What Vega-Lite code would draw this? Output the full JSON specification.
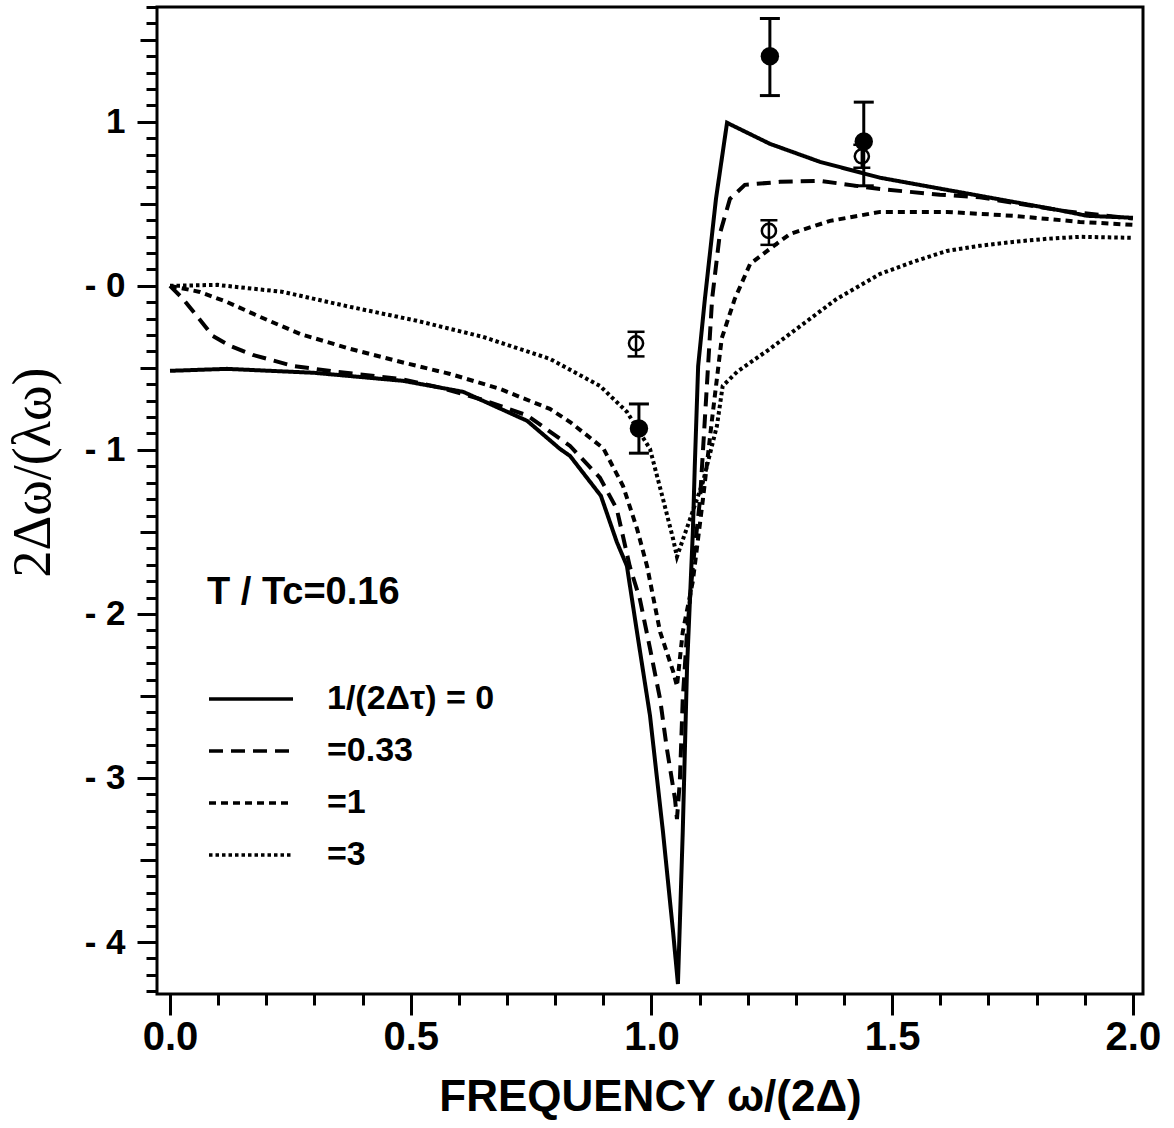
{
  "$schema": "https://vega.github.io/schema/vega-lite/v6.json",
  "width": 986,
  "height": 987,
  "autosize": {"type": "none"},
  "padding": {"left": 157, "top": 7, "right": 31, "bottom": 134},
  "background": "white",
  "config": {
    "font": "Liberation Sans",
    "view": {"stroke": "black", "strokeWidth": 3},
    "axis": {
      "grid": false,
      "domain": false,
      "tickColor": "black",
      "tickWidth": 3,
      "labelColor": "black",
      "labelFont": "Liberation Sans",
      "labelFontWeight": "bold",
      "titleColor": "black"
    }
  },
  "datasets": {
    "curves": [
      {"series": "1/(2Δτ) = 0", "x": 0, "y": -0.518},
      {"series": "1/(2Δτ) = 0", "x": 0.118, "y": -0.506},
      {"series": "1/(2Δτ) = 0", "x": 0.299, "y": -0.53},
      {"series": "1/(2Δτ) = 0", "x": 0.484, "y": -0.579},
      {"series": "1/(2Δτ) = 0", "x": 0.609, "y": -0.646},
      {"series": "1/(2Δτ) = 0", "x": 0.742, "y": -0.823},
      {"series": "1/(2Δτ) = 0", "x": 0.81, "y": -0.994},
      {"series": "1/(2Δτ) = 0", "x": 0.831, "y": -1.037},
      {"series": "1/(2Δτ) = 0", "x": 0.895, "y": -1.28},
      {"series": "1/(2Δτ) = 0", "x": 0.928, "y": -1.561},
      {"series": "1/(2Δτ) = 0", "x": 0.949, "y": -1.707},
      {"series": "1/(2Δτ) = 0", "x": 0.97, "y": -2.11},
      {"series": "1/(2Δτ) = 0", "x": 0.997, "y": -2.62},
      {"series": "1/(2Δτ) = 0", "x": 1.024, "y": -3.33},
      {"series": "1/(2Δτ) = 0", "x": 1.045, "y": -3.94},
      {"series": "1/(2Δτ) = 0", "x": 1.055, "y": -4.256},
      {"series": "1/(2Δτ) = 0", "x": 1.065, "y": -3.33},
      {"series": "1/(2Δτ) = 0", "x": 1.074, "y": -2.32},
      {"series": "1/(2Δτ) = 0", "x": 1.08, "y": -1.91},
      {"series": "1/(2Δτ) = 0", "x": 1.086, "y": -1.5},
      {"series": "1/(2Δτ) = 0", "x": 1.09, "y": -1.1},
      {"series": "1/(2Δτ) = 0", "x": 1.097, "y": -0.49},
      {"series": "1/(2Δτ) = 0", "x": 1.111, "y": -0.08},
      {"series": "1/(2Δτ) = 0", "x": 1.134, "y": 0.53},
      {"series": "1/(2Δτ) = 0", "x": 1.157, "y": 0.994},
      {"series": "1/(2Δτ) = 0", "x": 1.246, "y": 0.866},
      {"series": "1/(2Δτ) = 0", "x": 1.35, "y": 0.756},
      {"series": "1/(2Δτ) = 0", "x": 1.475, "y": 0.659},
      {"series": "1/(2Δτ) = 0", "x": 1.682, "y": 0.549},
      {"series": "1/(2Δτ) = 0", "x": 1.855, "y": 0.457},
      {"series": "1/(2Δτ) = 0", "x": 1.905, "y": 0.427},
      {"series": "1/(2Δτ) = 0", "x": 2.0, "y": 0.415},

      {"series": "=0.33", "x": 0, "y": 0},
      {"series": "=0.33", "x": 0.027, "y": -0.079},
      {"series": "=0.33", "x": 0.089, "y": -0.305},
      {"series": "=0.33", "x": 0.125, "y": -0.366},
      {"series": "=0.33", "x": 0.172, "y": -0.421},
      {"series": "=0.33", "x": 0.255, "y": -0.488},
      {"series": "=0.33", "x": 0.347, "y": -0.524},
      {"series": "=0.33", "x": 0.478, "y": -0.567},
      {"series": "=0.33", "x": 0.561, "y": -0.62},
      {"series": "=0.33", "x": 0.65, "y": -0.695},
      {"series": "=0.33", "x": 0.742, "y": -0.79},
      {"series": "=0.33", "x": 0.831, "y": -0.976},
      {"series": "=0.33", "x": 0.893, "y": -1.17},
      {"series": "=0.33", "x": 0.928, "y": -1.36},
      {"series": "=0.33", "x": 0.955, "y": -1.71},
      {"series": "=0.33", "x": 0.976, "y": -1.91},
      {"series": "=0.33", "x": 0.997, "y": -2.21},
      {"series": "=0.33", "x": 1.018, "y": -2.52},
      {"series": "=0.33", "x": 1.032, "y": -2.82},
      {"series": "=0.33", "x": 1.049, "y": -3.13},
      {"series": "=0.33", "x": 1.053, "y": -3.25},
      {"series": "=0.33", "x": 1.059, "y": -3.02},
      {"series": "=0.33", "x": 1.065, "y": -2.52},
      {"series": "=0.33", "x": 1.074, "y": -2.11},
      {"series": "=0.33", "x": 1.086, "y": -1.71},
      {"series": "=0.33", "x": 1.101, "y": -1.3},
      {"series": "=0.33", "x": 1.111, "y": -0.81},
      {"series": "=0.33", "x": 1.126, "y": -0.08},
      {"series": "=0.33", "x": 1.142, "y": 0.317},
      {"series": "=0.33", "x": 1.163, "y": 0.53},
      {"series": "=0.33", "x": 1.194, "y": 0.616},
      {"series": "=0.33", "x": 1.267, "y": 0.634},
      {"series": "=0.33", "x": 1.35, "y": 0.64},
      {"series": "=0.33", "x": 1.475, "y": 0.59},
      {"series": "=0.33", "x": 1.599, "y": 0.556},
      {"series": "=0.33", "x": 1.682, "y": 0.54},
      {"series": "=0.33", "x": 1.855, "y": 0.457},
      {"series": "=0.33", "x": 2.0, "y": 0.41},

      {"series": "=1", "x": 0, "y": 0},
      {"series": "=1", "x": 0.062, "y": -0.037},
      {"series": "=1", "x": 0.118, "y": -0.098},
      {"series": "=1", "x": 0.187, "y": -0.189},
      {"series": "=1", "x": 0.27, "y": -0.293},
      {"series": "=1", "x": 0.374, "y": -0.384},
      {"series": "=1", "x": 0.478, "y": -0.463},
      {"series": "=1", "x": 0.582, "y": -0.537},
      {"series": "=1", "x": 0.685, "y": -0.628},
      {"series": "=1", "x": 0.789, "y": -0.75},
      {"series": "=1", "x": 0.831, "y": -0.83},
      {"series": "=1", "x": 0.9, "y": -0.99},
      {"series": "=1", "x": 0.941, "y": -1.22},
      {"series": "=1", "x": 0.97, "y": -1.48},
      {"series": "=1", "x": 0.991, "y": -1.71},
      {"series": "=1", "x": 1.018, "y": -2.11},
      {"series": "=1", "x": 1.045, "y": -2.35},
      {"series": "=1", "x": 1.053, "y": -2.44},
      {"series": "=1", "x": 1.065, "y": -2.11},
      {"series": "=1", "x": 1.086, "y": -1.8},
      {"series": "=1", "x": 1.107, "y": -1.3},
      {"series": "=1", "x": 1.126, "y": -0.81},
      {"series": "=1", "x": 1.146, "y": -0.32},
      {"series": "=1", "x": 1.173, "y": -0.08},
      {"series": "=1", "x": 1.205, "y": 0.134},
      {"series": "=1", "x": 1.246, "y": 0.226},
      {"series": "=1", "x": 1.288, "y": 0.317},
      {"series": "=1", "x": 1.371, "y": 0.396},
      {"series": "=1", "x": 1.475, "y": 0.451},
      {"series": "=1", "x": 1.614, "y": 0.451},
      {"series": "=1", "x": 1.751, "y": 0.427},
      {"series": "=1", "x": 1.89, "y": 0.39},
      {"series": "=1", "x": 2.0, "y": 0.372},

      {"series": "=3", "x": 0, "y": 0},
      {"series": "=3", "x": 0.098, "y": 0.006},
      {"series": "=3", "x": 0.235, "y": -0.037},
      {"series": "=3", "x": 0.374, "y": -0.128},
      {"series": "=3", "x": 0.513, "y": -0.213},
      {"series": "=3", "x": 0.65, "y": -0.311},
      {"series": "=3", "x": 0.789, "y": -0.445},
      {"series": "=3", "x": 0.893, "y": -0.61},
      {"series": "=3", "x": 0.949, "y": -0.768},
      {"series": "=3", "x": 0.997, "y": -0.994},
      {"series": "=3", "x": 1.024, "y": -1.299},
      {"series": "=3", "x": 1.045, "y": -1.543},
      {"series": "=3", "x": 1.053, "y": -1.652},
      {"series": "=3", "x": 1.059, "y": -1.6},
      {"series": "=3", "x": 1.107, "y": -1.195},
      {"series": "=3", "x": 1.136, "y": -0.854},
      {"series": "=3", "x": 1.148, "y": -0.61},
      {"series": "=3", "x": 1.178, "y": -0.524},
      {"series": "=3", "x": 1.246, "y": -0.384},
      {"series": "=3", "x": 1.385, "y": -0.079},
      {"series": "=3", "x": 1.475, "y": 0.073},
      {"series": "=3", "x": 1.543, "y": 0.146},
      {"series": "=3", "x": 1.614, "y": 0.213},
      {"series": "=3", "x": 1.682, "y": 0.244},
      {"series": "=3", "x": 1.751, "y": 0.268},
      {"series": "=3", "x": 1.821, "y": 0.287},
      {"series": "=3", "x": 1.89, "y": 0.299},
      {"series": "=3", "x": 2.0, "y": 0.293}
    ],
    "obs": [
      {"kind": "filled", "x": 0.974, "y": -0.87, "lo": -1.02, "hi": -0.72},
      {"kind": "filled", "x": 1.246, "y": 1.40, "lo": 1.16, "hi": 1.63},
      {"kind": "filled", "x": 1.441, "y": 0.88, "lo": 0.61, "hi": 1.12},
      {"kind": "open", "x": 0.968, "y": -0.35, "lo": -0.43, "hi": -0.28},
      {"kind": "open", "x": 1.244, "y": 0.335, "lo": 0.25, "hi": 0.40},
      {"kind": "open", "x": 1.437, "y": 0.79, "lo": 0.72, "hi": 0.86}
    ]
  },
  "layer": [
    {
      "data": {"name": "curves"},
      "mark": {"type": "line", "stroke": "black", "strokeWidth": 4},
      "encoding": {
        "x": {
          "field": "x", "type": "quantitative",
          "scale": {"domain": [-0.027, 2.021], "nice": false, "zero": false},
          "axis": {
            "orient": "bottom", "values": [0, 0.5, 1, 1.5, 2], "format": ".1f",
            "tickSize": 21, "labelFontSize": 40, "labelPadding": 2,
            "title": "FREQUENCY ω/(2Δ)", "titleFont": "Liberation Sans", "titleFontWeight": "bold",
            "titleFontSize": 44, "titlePadding": 18
          }
        },
        "y": {
          "field": "y", "type": "quantitative",
          "scale": {"domain": [-4.317, 1.70], "nice": false, "zero": false},
          "axis": {
            "orient": "left", "values": [1, 0, -1, -2, -3, -4],
            "tickSize": 20, "labelFontSize": 35, "labelPadding": 12,
            "labelExpr": "datum.value > 0 ? format(datum.value, 'd') : '- ' + format(abs(datum.value), 'd')",
            "title": "2Δω/(λω)", "titleFont": "Liberation Serif", "titleFontWeight": "normal",
            "titleFontSize": 54, "titlePadding": 24, "titleY": 465
          }
        },
        "strokeDash": {
          "field": "series", "type": "nominal",
          "scale": {
            "domain": ["1/(2Δτ) = 0", "=0.33", "=1", "=3"],
            "range": [[1, 0], [14, 8], [7, 5], [3.5, 3]]
          },
          "legend": {
            "orient": "none", "legendX": 50, "legendY": 567,
            "title": "T / Tc=0.16", "titleFontSize": 38, "titleFont": "Liberation Sans",
            "titleFontWeight": "bold", "titleColor": "black", "titlePadding": 66, "titleLimit": 600,
            "labelFontSize": 34, "labelFont": "Liberation Sans", "labelFontWeight": "bold",
            "labelColor": "black", "labelOffset": 32, "labelLimit": 400,
            "symbolType": "stroke", "symbolSize": 7056, "symbolStrokeWidth": 3.5,
            "symbolStrokeColor": "black", "clipHeight": 42, "rowPadding": 10, "padding": 0
          }
        }
      }
    },
    {
      "data": {"name": "obs"},
      "transform": [{"filter": "datum.kind == 'filled'"}],
      "mark": {
        "type": "errorbar", "color": "black", "opacity": 1, "thickness": 3,
        "rule": {"color": "black", "opacity": 1, "strokeWidth": 3},
        "ticks": {"size": 20, "thickness": 3, "color": "black", "opacity": 1}
      },
      "encoding": {
        "x": {
          "field": "x", "type": "quantitative",
          "scale": {"domain": [-0.027, 2.021], "nice": false, "zero": false},
          "axis": {
            "orient": "bottom", "labels": false, "tickSize": 11, "title": null,
            "values": [0, 0.1, 0.2, 0.3, 0.4, 0.5, 0.6, 0.7, 0.8, 0.9, 1.0, 1.1, 1.2, 1.3, 1.4, 1.5, 1.6, 1.7, 1.8, 1.9, 2.0]
          }
        },
        "y": {
          "field": "lo", "type": "quantitative",
          "scale": {"domain": [-4.317, 1.70], "nice": false, "zero": false},
          "axis": {
            "orient": "left", "labels": false, "tickSize": 17, "title": null,
            "values": [1.5, 0.5, -0.5, -1.5, -2.5, -3.5]
          }
        },
        "y2": {"field": "hi"}
      }
    },
    {
      "data": {"name": "obs"},
      "transform": [{"filter": "datum.kind == 'open'"}],
      "mark": {
        "type": "errorbar", "color": "black", "opacity": 1, "thickness": 2.5,
        "rule": {"color": "black", "opacity": 1, "strokeWidth": 2.5},
        "ticks": {"size": 17, "thickness": 2.5, "color": "black", "opacity": 1}
      },
      "encoding": {
        "x": {
          "field": "x", "type": "quantitative",
          "scale": {"domain": [-0.027, 2.021], "nice": false, "zero": false},
          "axis": null
        },
        "y": {
          "field": "lo", "type": "quantitative",
          "scale": {"domain": [-4.317, 1.70], "nice": false, "zero": false},
          "axis": {
            "orient": "left", "labels": false, "tickSize": 11, "title": null,
            "values": [1.7, 1.6, 1.5, 1.4, 1.3, 1.2, 1.1, 1.0, 0.9, 0.8, 0.7, 0.6, 0.5, 0.4, 0.3, 0.2, 0.1, 0, -0.1, -0.2, -0.3, -0.4, -0.5, -0.6, -0.7, -0.8, -0.9, -1.0, -1.1, -1.2, -1.3, -1.4, -1.5, -1.6, -1.7, -1.8, -1.9, -2.0, -2.1, -2.2, -2.3, -2.4, -2.5, -2.6, -2.7, -2.8, -2.9, -3.0, -3.1, -3.2, -3.3, -3.4, -3.5, -3.6, -3.7, -3.8, -3.9, -4.0, -4.1, -4.2, -4.3]
          }
        },
        "y2": {"field": "hi"}
      }
    },
    {
      "data": {"name": "obs"},
      "transform": [{"filter": "datum.kind == 'filled'"}],
      "mark": {"type": "point", "shape": "circle", "filled": true, "color": "black", "size": 340, "opacity": 1},
      "encoding": {
        "x": {"field": "x", "type": "quantitative", "scale": {"domain": [-0.027, 2.021], "nice": false, "zero": false}, "axis": null},
        "y": {"field": "y", "type": "quantitative", "scale": {"domain": [-4.317, 1.70], "nice": false, "zero": false}, "axis": null}
      }
    },
    {
      "data": {"name": "obs"},
      "transform": [{"filter": "datum.kind == 'open'"}],
      "mark": {"type": "point", "shape": "circle", "filled": false, "stroke": "black", "strokeWidth": 2.5, "size": 200, "opacity": 1},
      "encoding": {
        "x": {"field": "x", "type": "quantitative", "scale": {"domain": [-0.027, 2.021], "nice": false, "zero": false}, "axis": null},
        "y": {"field": "y", "type": "quantitative", "scale": {"domain": [-4.317, 1.70], "nice": false, "zero": false}, "axis": null}
      }
    }
  ],
  "resolve": {"axis": {"x": "independent", "y": "independent"}}
}
